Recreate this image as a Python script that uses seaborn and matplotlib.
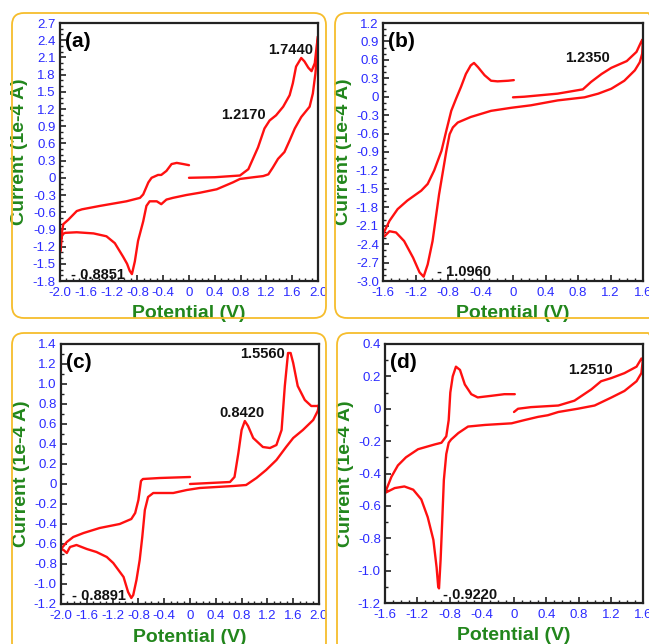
import numpy as np
import seaborn as sns
import matplotlib
matplotlib.use("Agg")
from matplotlib import pyplot as plt
from matplotlib.patches import FancyBboxPatch
from matplotlib.transforms import IdentityTransform
from matplotlib.ticker import MultipleLocator, AutoMinorLocator, FuncFormatter

# ---- data: potential (V) / current (1e-4 A) ----
a_pot = [0.0, 0.4, 0.79, 0.92, 1.07, 1.17, 1.25, 1.35, 1.46, 1.56, 1.61, 1.66, 1.74, 1.79, 1.85, 1.9, 1.95, 1.98, 2.0,
         2.0, 1.96, 1.92, 1.87, 1.74, 1.64, 1.56, 1.48, 1.38, 1.3, 1.23, 1.15, 1.0, 0.79, 0.68, 0.43, 0.17, -0.04,
         -0.25, -0.35, -0.43, -0.5, -0.61, -0.66, -0.71, -0.79, -0.84, -0.885, -0.92, -0.96, -1.02, -1.15, -1.28,
         -1.48, -1.74, -1.92, -1.97, -1.99, -2.0,
         -1.99, -1.95, -1.87, -1.74, -1.66, -1.38, -0.97, -0.76, -0.71, -0.63, -0.58, -0.48, -0.43, -0.35, -0.27,
         -0.19, -0.09, 0.0]
a_cur = [0.0, 0.01, 0.04, 0.15, 0.53, 0.86, 1.0, 1.09, 1.24, 1.44, 1.65, 1.94, 2.09, 2.03, 1.92, 1.86, 2.0, 2.3, 2.47,
         2.35, 1.82, 1.47, 1.24, 1.06, 0.86, 0.65, 0.45, 0.33, 0.18, 0.06, 0.03, 0.01, -0.02, -0.08, -0.2, -0.26, -0.3,
         -0.35, -0.38, -0.46, -0.41, -0.41, -0.49, -0.76, -1.1, -1.46, -1.68, -1.62, -1.5, -1.38, -1.14, -1.02,
         -0.97, -0.95, -0.96, -0.99, -1.25, -1.3,
         -1.1, -0.81, -0.73, -0.58, -0.55, -0.49, -0.41, -0.35, -0.29, -0.08, 0.0, 0.05, 0.05, 0.12, 0.24,
         0.26, 0.24, 0.22]

b_pot = [0.0, 0.14, 0.55, 0.86, 0.96, 1.09, 1.21, 1.4, 1.52, 1.58, 1.6,
         1.59, 1.56, 1.5, 1.37, 1.21, 1.05, 0.88, 0.55, 0.22, -0.02, -0.27, -0.52, -0.68, -0.74, -0.78, -0.82,
         -0.91, -0.99, -1.05, -1.1, -1.15, -1.23, -1.34, -1.44, -1.52, -1.58, -1.6,
         -1.6, -1.52, -1.42, -1.3, -1.13, -1.05, -0.97, -0.88, -0.82, -0.76, -0.7, -0.64, -0.58, -0.52, -0.48,
         -0.43, -0.35, -0.27, -0.19, -0.06, 0.01]
b_cur = [-0.01, 0.0, 0.05, 0.12, 0.24, 0.37, 0.47, 0.58, 0.73, 0.9, 0.94,
         0.7, 0.56, 0.43, 0.26, 0.13, 0.05, -0.01, -0.06, -0.14, -0.18, -0.23, -0.33, -0.42, -0.5, -0.61, -0.88,
         -1.59, -2.35, -2.73, -2.93, -2.86, -2.62, -2.35, -2.21, -2.19, -2.27, -2.28,
         -2.24, -2.02, -1.83, -1.69, -1.53, -1.42, -1.2, -0.88, -0.55, -0.23, -0.03, 0.16, 0.37, 0.51, 0.55,
         0.48, 0.35, 0.26, 0.25, 0.26, 0.27]

c_pot = [0.0, 0.62, 0.69, 0.75, 0.8, 0.85, 0.9, 0.98, 1.13, 1.24, 1.34, 1.42, 1.47, 1.52, 1.56, 1.6, 1.67, 1.78,
         1.88, 1.98, 2.0,
         1.98, 1.91, 1.75, 1.6, 1.49, 1.34, 1.18, 1.03, 0.87, 0.67, 0.15, -0.05, -0.26, -0.57, -0.65, -0.7, -0.74,
         -0.78, -0.83, -0.88, -0.91, -0.96, -1.03, -1.19, -1.29, -1.45, -1.6, -1.76, -1.86, -1.91, -1.96, -2.0,
         -1.91, -1.81, -1.65, -1.4, -1.09, -0.91, -0.85, -0.8, -0.76, -0.73, -0.47, 0.0]
c_cur = [0.0, 0.02, 0.07, 0.31, 0.54, 0.63, 0.58, 0.46, 0.37, 0.36, 0.39, 0.54, 0.98, 1.31, 1.31, 1.21, 0.98, 0.84,
         0.78, 0.78, 0.79,
         0.73, 0.64, 0.54, 0.46, 0.37, 0.24, 0.14, 0.06, -0.01, -0.02, -0.04, -0.06, -0.09, -0.09, -0.13, -0.26, -0.53,
         -0.76, -0.96, -1.11, -1.14, -1.08, -0.93, -0.79, -0.73, -0.68, -0.65, -0.61, -0.63, -0.69, -0.66, -0.65,
         -0.58, -0.53, -0.49, -0.44, -0.4, -0.35, -0.29, -0.16, 0.03, 0.05, 0.06, 0.07]

d_pot = [0.0, 0.05, 0.21, 0.55, 0.75, 0.84, 0.96, 1.08, 1.21, 1.37, 1.52, 1.58, 1.6,
         1.58, 1.52, 1.37, 1.21, 1.0, 0.79, 0.55, 0.42, 0.3, 0.13, -0.03, -0.36, -0.57, -0.69, -0.78, -0.81, -0.84,
         -0.87, -0.89, -0.91, -0.93, -0.94, -0.96, -1.0, -1.07, -1.15, -1.25, -1.36, -1.48, -1.56, -1.6,
         -1.52, -1.44, -1.34, -1.19, -0.98, -0.9, -0.84, -0.81, -0.79, -0.76, -0.72, -0.67, -0.61, -0.53, -0.45,
         -0.28, -0.12, 0.01]
d_cur = [-0.02, 0.0, 0.01, 0.02, 0.05, 0.08, 0.12, 0.17, 0.19, 0.22, 0.26, 0.31, 0.31,
         0.22, 0.17, 0.11, 0.07, 0.02, 0.0, -0.02, -0.04, -0.05, -0.07, -0.09, -0.1, -0.11, -0.15, -0.19, -0.21, -0.28,
         -0.44, -0.69, -0.93, -1.11, -1.1, -0.98, -0.81, -0.67, -0.56, -0.5, -0.48, -0.49, -0.51, -0.52,
         -0.42, -0.35, -0.3, -0.25, -0.22, -0.21, -0.17, -0.07, 0.1, 0.2, 0.26, 0.24, 0.15, 0.09, 0.07,
         0.08, 0.09, 0.09]

# peak labels: (text, x, y)
a_peaks = [("1.7440", 1.57, 2.23), ("1.2170", 0.84, 1.09), ("- 0.8851", -1.41, -1.69)]
b_peaks = [("1.2350", 0.92, 0.63), ("- 1.0960", -0.6, -2.85)]
c_peaks = [("1.5560", 1.13, 1.30), ("0.8420", 0.81, 0.71), ("- 0.8891", -1.41, -1.12)]
d_peaks = [("1.2510", 0.95, 0.24), ("- 0.9220", -0.55, -1.15)]

sns.set_style("white")
plt.rcParams['font.family'] = ['Liberation Sans', 'DejaVu Sans']

BLUE = "#2b2bff"
GREEN = "#22861c"
GOLD = "#f6bd2c"

fig = plt.figure(figsize=(6.49, 6.44), dpi=100)

# rounded yellow frames, in pixels (origin bottom-left)
H = 644
for x0, top, x1, bot in [(12, 13, 326, 318), (335, 13, 660, 318),
                         (12, 333, 326, 655), (337, 333, 660, 655)]:
    fig.add_artist(FancyBboxPatch((x0, H - bot), x1 - x0, bot - top,
                                  boxstyle="round,pad=0,rounding_size=12",
                                  transform=IdentityTransform(), fc="none",
                                  ec=GOLD, lw=1.3))

def fmt(v, pos):
    if abs(v) < 1e-9:
        return "0"
    return "%.1f" % v

panels = [
    ("(a)", a_pot, a_cur, a_peaks, (60, 23, 318, 281), (-2.0, 2.0), (-1.8, 2.7), 0.3, 3),
    ("(b)", b_pot, b_cur, b_peaks, (383, 23, 643, 281), (-1.6, 1.6), (-3.0, 1.2), 0.3, 3),
    ("(c)", c_pot, c_cur, c_peaks, (61, 344, 319, 604), (-2.0, 2.0), (-1.2, 1.4), 0.2, 2),
    ("(d)", d_pot, d_cur, d_peaks, (385, 344, 643, 603), (-1.6, 1.6), (-1.2, 0.4), 0.2, 2),
]

for tag, pot, cur, peaks, box, xl, yl, ystep, yminor in panels:
    l, t, r, b = box
    ax = fig.add_axes([l / 649, 1 - b / 644, (r - l) / 649, (b - t) / 644])
    sns.lineplot(x=pot, y=cur, sort=False, estimator=None, color="#ff1010",
                 lw=1.7, ax=ax)
    ax.set_xlim(*xl)
    ax.set_ylim(*yl)
    ax.xaxis.set_major_locator(MultipleLocator(0.4))
    ax.xaxis.set_minor_locator(AutoMinorLocator(4))
    ax.yaxis.set_major_locator(MultipleLocator(ystep))
    ax.yaxis.set_minor_locator(AutoMinorLocator(yminor))
    ax.xaxis.set_major_formatter(FuncFormatter(fmt))
    ax.yaxis.set_major_formatter(FuncFormatter(fmt))
    ax.tick_params(which="both", direction="in", color="#222222", labelcolor=BLUE,
                   labelsize=9.5, left=True, bottom=True)
    ax.tick_params(which="major", length=4, width=1.2)
    ax.tick_params(which="minor", length=2, width=1)
    ax.tick_params(axis="x", pad=4)
    ax.tick_params(axis="y", pad=3)
    for s in ax.spines.values():
        s.set_color("#222222")
        s.set_linewidth(1.6)
    ax.set_xlabel("Potential (V)", color=GREEN, fontsize=14, fontweight="bold")
    ax.set_ylabel("Current (1e-4 A)", color=GREEN, fontsize=14, fontweight="bold")
    ax.xaxis.label.set_va("center")
    ax.yaxis.label.set_va("center")
    ax.xaxis.set_label_coords(0.5, -33 / (b - t))
    ax.yaxis.set_label_coords(-40 / (r - l), 0.5)
    ax.text(0.02, 0.965, tag, transform=ax.transAxes, ha="left", va="top",
            fontsize=15, fontweight="bold", color="black")
    for txt, px, py in peaks:
        ax.text(px, py, txt, ha="center", va="center", fontsize=10.5,
                fontweight="bold", color="#111111")

fig.savefig("out.png", dpi=100)
